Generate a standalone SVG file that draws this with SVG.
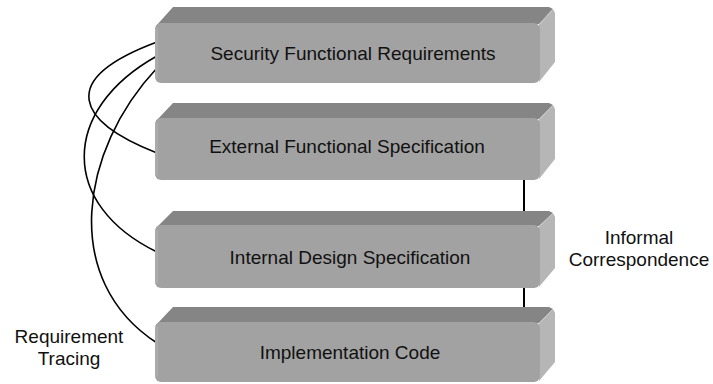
<svg xmlns="http://www.w3.org/2000/svg" width="713" height="384" viewBox="0 0 713 384">
  <style>
    .top { fill: #858585; }
    .side { fill: #b6b6b6; }
    .front { fill: #a2a2a2; }
    .edge { fill: #ababab; }
    .hl { stroke: #c8c8c8; stroke-width: 1; fill: none; }
    .lbl { font-family: "Liberation Sans", Arial, sans-serif; font-size: 19px; fill: #111; text-anchor: middle; }
    .trace { fill: none; stroke: #000; stroke-width: 1.6; }
    .corr { stroke: #000; stroke-width: 2; }
  </style>

  <rect width="713" height="384" fill="#fff"/>

  <!-- requirement tracing curves and informal correspondence links -->
  <g id="connectors">
    <path class="trace" d="M157,42 C55,80 78,122 157,153"/>
    <path class="trace" d="M157,56 C60,110 60,205 157,252"/>
    <path class="trace" d="M157,68 C80,150 60,280 157,343"/>
    <line class="corr" x1="524" y1="180" x2="524" y2="213"/>
    <line class="corr" x1="524" y1="288" x2="524" y2="318"/>
  </g>

  <g id="security-functional-requirements" transform="translate(155,23)">
    <polygon class="top" points="1,3 18,-16 394,-16 398,-14 384,1"/>
    <polygon class="side" points="384,1 398,-14 400,-10 400,39 384,59"/>
    <line class="hl" x1="385" y1="1" x2="398" y2="-14"/>
    <rect class="front" width="385" height="60" rx="6"/>
    <rect class="edge" x="0" y="5" width="3" height="50"/>
    <text class="lbl" x="198" y="37">Security Functional Requirements</text>
  </g>

  <g id="external-functional-specification" transform="translate(155,118)">
    <polygon class="top" points="1,3 18,-15 394,-15 398,-13 384,1"/>
    <polygon class="side" points="384,1 398,-13 400,-9 400,41 384,61"/>
    <line class="hl" x1="385" y1="1" x2="398" y2="-13"/>
    <rect class="front" width="385" height="62" rx="6"/>
    <rect class="edge" x="0" y="5" width="3" height="52"/>
    <text class="lbl" x="192" y="35">External Functional Specification</text>
  </g>

  <g id="internal-design-specification" transform="translate(155,225)">
    <polygon class="top" points="1,3 18,-14 394,-14 398,-12 384,1"/>
    <polygon class="side" points="384,1 398,-12 400,-8 400,43 384,62"/>
    <line class="hl" x1="385" y1="1" x2="398" y2="-12"/>
    <rect class="front" width="385" height="63" rx="6"/>
    <rect class="edge" x="0" y="5" width="3" height="53"/>
    <text class="lbl" x="195" y="39">Internal Design Specification</text>
  </g>

  <g id="implementation-code" transform="translate(155,322)">
    <polygon class="top" points="1,3 18,-15 394,-15 398,-13 384,1"/>
    <polygon class="side" points="384,1 398,-13 400,-9 400,40 384,59"/>
    <line class="hl" x1="385" y1="1" x2="398" y2="-13"/>
    <rect class="front" width="385" height="60" rx="6"/>
    <rect class="edge" x="0" y="5" width="3" height="50"/>
    <text class="lbl" x="195" y="37">Implementation Code</text>
  </g>

  <g id="label-informal-correspondence">
    <text class="lbl" x="639" y="244">Informal</text>
    <text class="lbl" x="639" y="266">Correspondence</text>
  </g>

  <g id="label-requirement-tracing">
    <text class="lbl" x="69" y="343">Requirement</text>
    <text class="lbl" x="69" y="365">Tracing</text>
  </g>
</svg>
